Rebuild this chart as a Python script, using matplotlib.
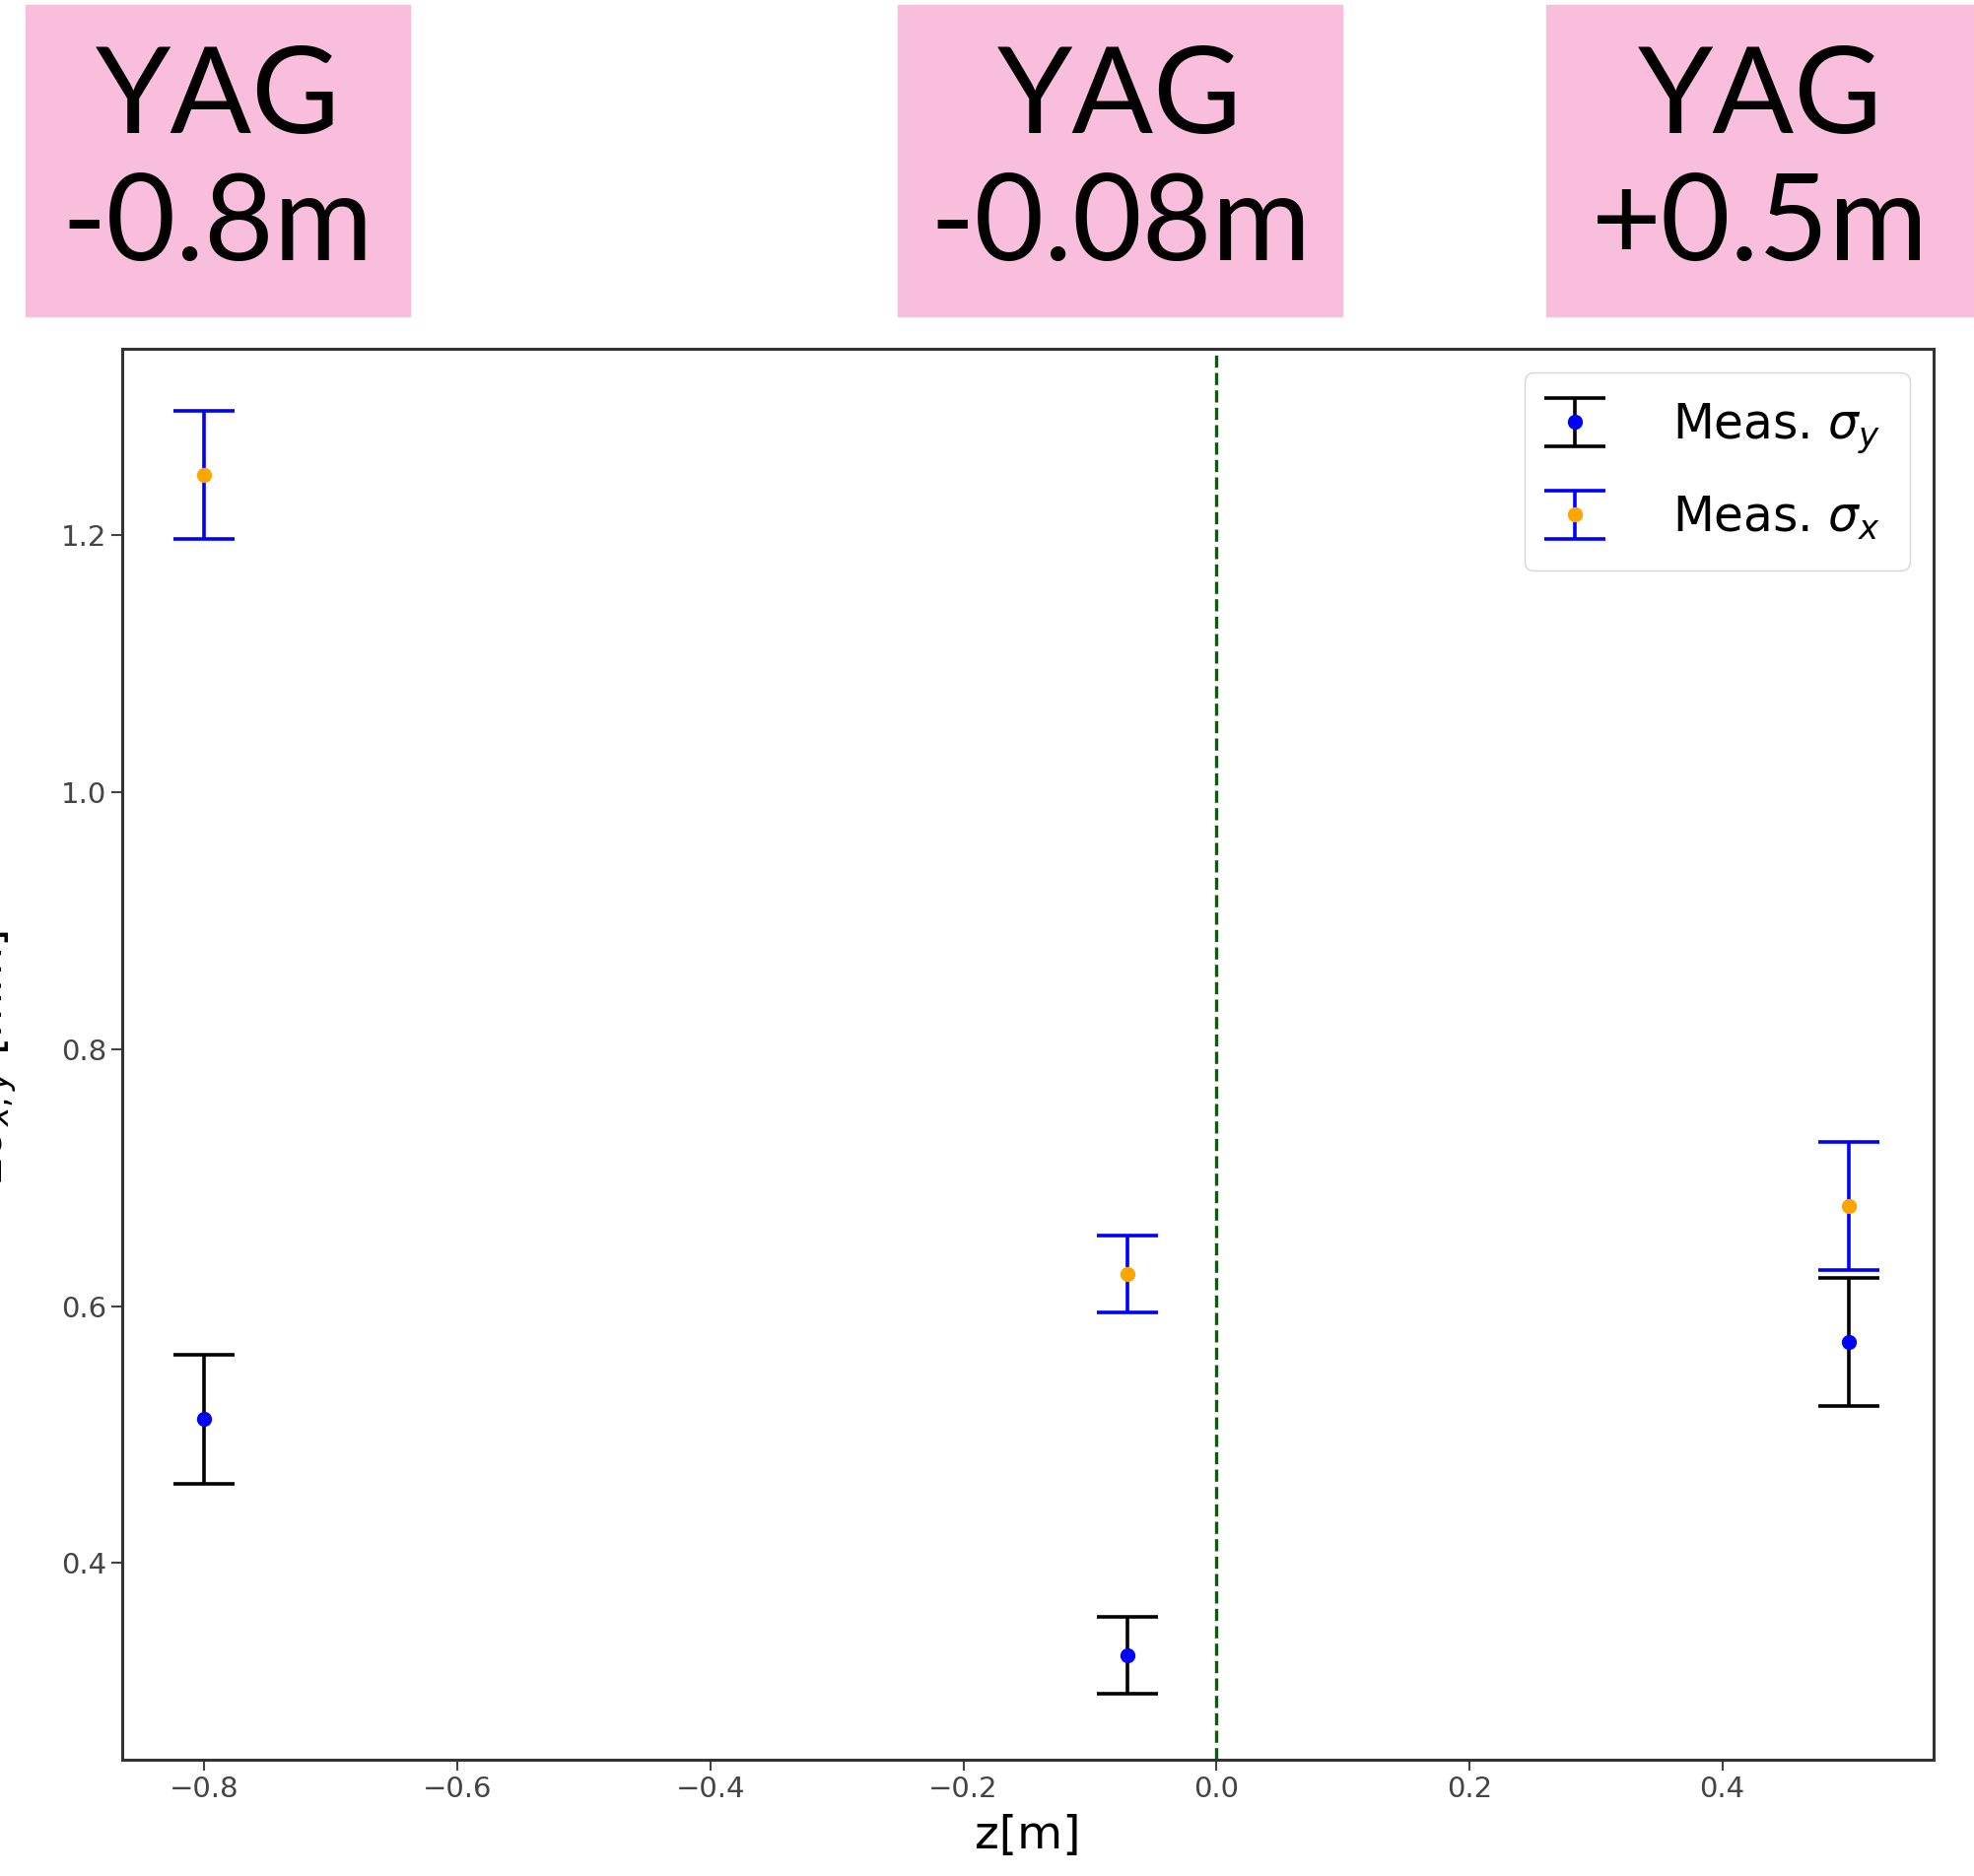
import matplotlib.pyplot as plt
from matplotlib.patches import Rectangle

z = [-0.8, -0.07, 0.5]
sigma_y = [0.512, 0.328, 0.572]
sigma_y_err = [0.05, 0.03, 0.05]
sigma_x = [1.247, 0.625, 0.678]
sigma_x_err = [0.05, 0.03, 0.05]

box_labels = ["YAG\n-0.8m", "YAG\n-0.08m", "YAG\n+0.5m"]
box_left = [26, 911, 1569]
box_right = [416, 1362, 2003]

W, H = 2003, 1904
fig = plt.figure(figsize=(W / 100, H / 100), dpi=100)
ax = fig.add_axes([124 / W, 1 - 1786 / H, (1962 - 124) / W, (1786 - 354) / H])

ax.errorbar(z, sigma_y, yerr=sigma_y_err, fmt="o", color="blue", ecolor="black",
            markersize=10, capsize=22, elinewidth=2.6, capthick=2.6,
            label=r"Meas. $\sigma_y$")
ax.errorbar(z, sigma_x, yerr=sigma_x_err, fmt="o", color="orange", ecolor="blue",
            markersize=10, capsize=22, elinewidth=2.6, capthick=2.6,
            label=r"Meas. $\sigma_x$")
ax.axvline(0, color="darkgreen", linestyle="--", linewidth=2.4)

ax.set_xlim(-0.865, 0.567)
ax.set_ylim(0.247, 1.345)
ax.set_xticks([-0.8, -0.6, -0.4, -0.2, 0.0, 0.2, 0.4])
ax.set_yticks([0.4, 0.6, 0.8, 1.0, 1.2])
ax.tick_params(labelsize=21, length=8, width=1.5, colors="#444444")
for s in ax.spines.values():
    s.set_linewidth(2.2)
    s.set_color("#333333")
ax.set_xlabel("z[m]", fontsize=34, labelpad=8)
ax.legend(loc="upper right", fontsize=35, borderpad=0.6, handletextpad=1.6,
          handlelength=0.9, borderaxespad=0.5, labelspacing=0.8)

fig.text(-0.004, 1 - 1073 / H, r"$2\sigma_{x,y}$ [mm]", rotation=90,
         ha="center", va="center", fontsize=34)

# pink boxes above the plot
for label, x0, x1 in zip(box_labels, box_left, box_right):
    fig.patches.append(Rectangle((x0 / W, 1 - 321 / H), (x1 - x0) / W, 316 / H,
                                 transform=fig.transFigure, color="#F8BEDC",
                                 zorder=0))
    fig.text((x0 + x1) / 2 / W, 1 - 165 / H, label, ha="center", va="center",
             fontsize=88, family="Lato", linespacing=1.2)

fig.savefig("out.png", dpi=100)
